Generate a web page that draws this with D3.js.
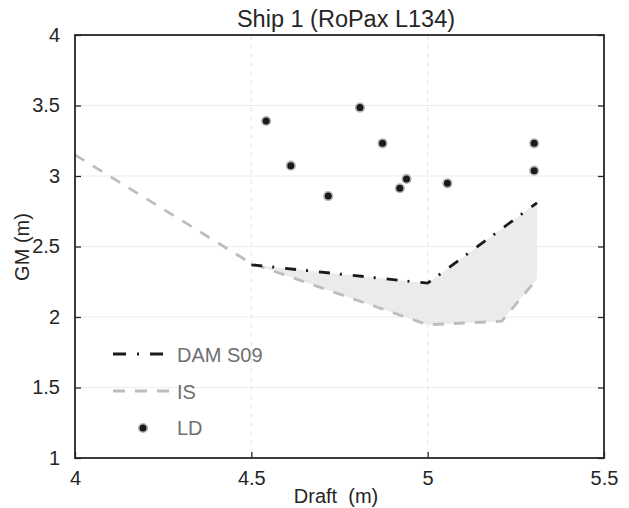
<!DOCTYPE html>
<html>
<head>
<meta charset="utf-8">
<script src="https://cdn.jsdelivr.net/npm/d3@7"></script>
<style>
  body { margin: 0; background: #fff; }
  svg { display: block; font-family: "Liberation Sans", Arial, sans-serif; }
</style>
</head>
<body>
<div id="chart"></div>
<script>
// chart data
var xTicks = [4, 4.5, 5, 5.5];
var xTickLabels = ["4", "4.5", "5", "5.5"];
var yTicks = [1, 1.5, 2, 2.5, 3, 3.5, 4];
var yTickLabels = ["1", "1.5", "2", "2.5", "3", "3.5", "4"];

var damDraft = [4.5, 5.0, 5.31];
var damGM = [2.37, 2.24, 2.81];

var isDraft = [4.0, 4.5, 5.0, 5.21, 5.31];
var isGM = [3.15, 2.38, 1.945, 1.97, 2.27];

var ldDraft = [4.542, 4.612, 4.718, 4.808, 4.872, 4.921, 4.94, 5.056, 5.302, 5.302];
var ldGM = [3.39, 3.073, 2.858, 3.485, 3.232, 2.913, 2.979, 2.948, 3.232, 3.038];

var margin = { top: 35, right: 25, bottom: 50, left: 75 };
var width = 629, height = 508;
var innerW = width - margin.left - margin.right;
var innerH = height - margin.top - margin.bottom;

var svg = d3.select("#chart").append("svg")
    .attr("width", width)
    .attr("height", height);
var g = svg.append("g")
    .attr("transform", "translate(" + margin.left + "," + margin.top + ")");

var x = d3.scaleLinear().domain([4, 5.5]).range([0, innerW]);
var y = d3.scaleLinear().domain([1, 4]).range([innerH, 0]);

var axisColor = "#262626";

// grid
g.append("g").selectAll("line")
    .data(yTicks.slice(1, -1))
    .enter().append("line")
    .attr("x1", 0).attr("x2", innerW)
    .attr("y1", function (d) { return y(d); })
    .attr("y2", function (d) { return y(d); })
    .attr("stroke", "#ededed").attr("stroke-width", 1);
g.append("g").selectAll("line")
    .data(xTicks.slice(1, -1))
    .enter().append("line")
    .attr("y1", 0).attr("y2", innerH)
    .attr("x1", function (d) { return x(d); })
    .attr("x2", function (d) { return x(d); })
    .attr("stroke", "#e6e6e6").attr("stroke-width", 1)
    .attr("stroke-dasharray", "5,4");

// band between DAM S09 and IS
var dam = damDraft.map(function (d, i) { return [d, damGM[i]]; });
var is = isDraft.map(function (d, i) { return [d, isGM[i]]; });
var band = dam.concat(is.filter(function (p) { return p[0] >= 4.5; }).reverse());
g.append("path")
    .attr("d", d3.line().x(function (p) { return x(p[0]); }).y(function (p) { return y(p[1]); })(band) + "Z")
    .attr("fill", "#ebebeb");

var line = d3.line()
    .x(function (p) { return x(p[0]); })
    .y(function (p) { return y(p[1]); });

g.append("path")
    .attr("d", line(is))
    .attr("fill", "none")
    .attr("stroke", "#bdbdbd")
    .attr("stroke-width", 2.8)
    .attr("stroke-dasharray", "11,10");

g.append("path")
    .attr("d", line(dam))
    .attr("fill", "none")
    .attr("stroke", "#1a1a1a")
    .attr("stroke-width", 2.8)
    .attr("stroke-dasharray", "11,10,2,11");

// LD points
g.append("g").selectAll("circle")
    .data(ldDraft)
    .enter().append("circle")
    .attr("cx", function (d) { return x(d); })
    .attr("cy", function (d, i) { return y(ldGM[i]); })
    .attr("r", 4.3)
    .attr("fill", "#1a1a1a")
    .attr("stroke", "#b5b5b5")
    .attr("stroke-width", 1.6);

// axes
var yAxis = g.append("g")
    .call(d3.axisLeft(y).tickValues(yTicks)
        .tickFormat(function (d, i) { return yTickLabels[i]; })
        .tickSize(-6).tickPadding(15));
var yAxisR = g.append("g")
    .attr("transform", "translate(" + innerW + ",0)")
    .call(d3.axisRight(y).tickValues(yTicks).tickFormat("").tickSize(-6));
var xAxis = g.append("g")
    .attr("transform", "translate(0," + innerH + ")")
    .call(d3.axisBottom(x).tickValues(xTicks)
        .tickFormat(function (d, i) { return xTickLabels[i]; })
        .tickSize(-6).tickPadding(13));

[yAxis, yAxisR, xAxis].forEach(function (a) {
    a.select(".domain").remove();
    a.selectAll("line").attr("stroke", axisColor).attr("stroke-width", 1.3);
    a.selectAll("text").attr("fill", axisColor).style("font-size", "20px");
});

// frame
g.append("rect")
    .attr("x", 0).attr("y", 0)
    .attr("width", innerW).attr("height", innerH)
    .attr("fill", "none")
    .attr("stroke", axisColor)
    .attr("stroke-width", 1.8);

// titles
svg.append("text")
    .attr("x", 346).attr("y", 27)
    .attr("text-anchor", "middle")
    .attr("fill", axisColor)
    .style("font-size", "23.5px")
    .text("Ship 1 (RoPax L134)");

svg.append("text")
    .attr("x", 336).attr("y", 503)
    .attr("text-anchor", "middle")
    .attr("fill", axisColor)
    .style("font-size", "20px")
    .style("white-space", "pre")
    .text("Draft  (m)");

svg.append("text")
    .attr("transform", "translate(29,247) rotate(-90)")
    .attr("text-anchor", "middle")
    .attr("fill", axisColor)
    .style("font-size", "20px")
    .text("GM (m)");

// legend
var legend = svg.append("g");
var legColor = "#6f6f6f";
legend.append("line")
    .attr("x1", 113).attr("x2", 163).attr("y1", 354).attr("y2", 354)
    .attr("stroke", "#1a1a1a").attr("stroke-width", 2.8)
    .attr("stroke-dasharray", "13,11,2,11");
legend.append("line")
    .attr("x1", 113).attr("x2", 170).attr("y1", 391).attr("y2", 391)
    .attr("stroke", "#bdbdbd").attr("stroke-width", 2.8)
    .attr("stroke-dasharray", "12,10");
legend.append("circle")
    .attr("cx", 143).attr("cy", 428).attr("r", 4.3)
    .attr("fill", "#1a1a1a").attr("stroke", "#b5b5b5").attr("stroke-width", 1.6);

var legText = ["DAM S09", "IS", "LD"];
var legY = [362, 398.5, 435];
legend.selectAll("text.leg")
    .data(legText)
    .enter().append("text")
    .attr("class", "leg")
    .attr("x", 177)
    .attr("y", function (d, i) { return legY[i]; })
    .attr("fill", legColor)
    .style("font-size", "20px")
    .text(function (d) { return d; });
</script>
</body>
</html>
